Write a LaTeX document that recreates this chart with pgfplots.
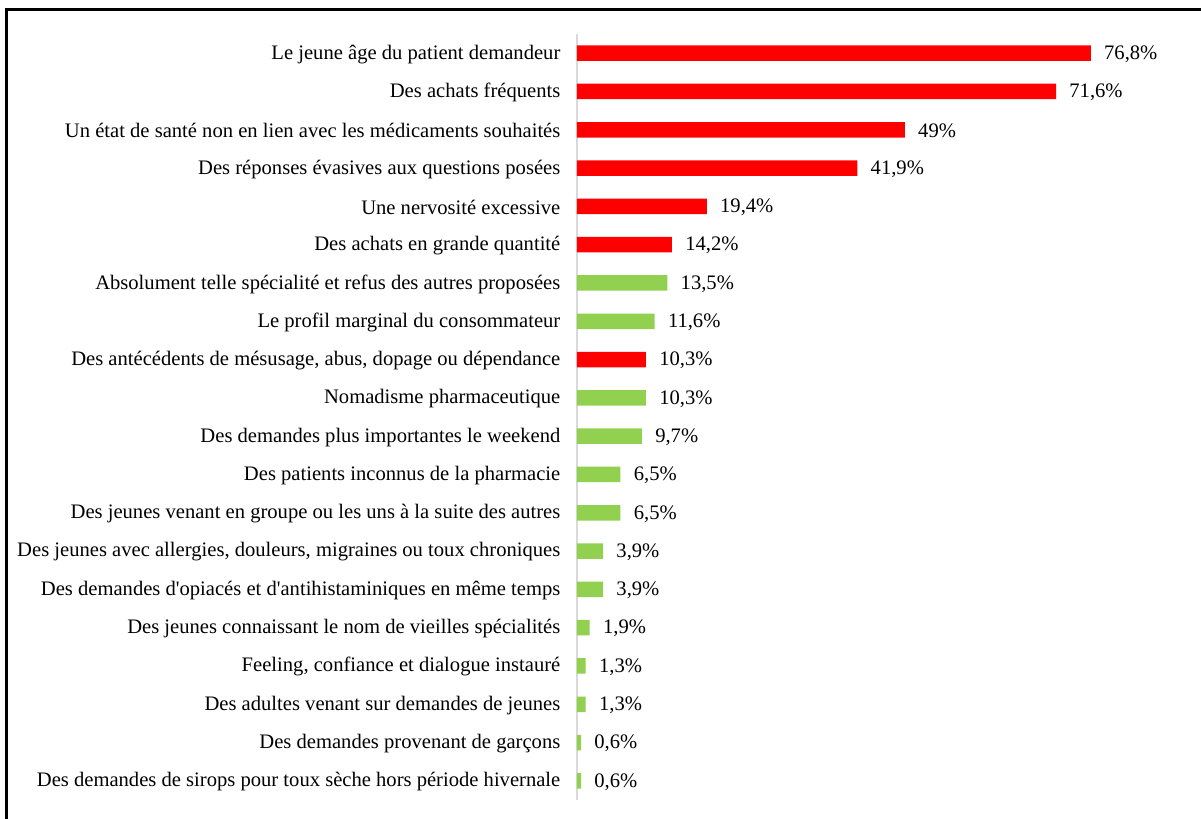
\documentclass[border=0pt]{standalone}
\usepackage{fontspec}
\setmainfont{Liberation Serif}
\usepackage{pgfplots}
\pgfplotsset{compat=1.18}
\definecolor{barred}{RGB}{255,0,0}
\definecolor{bargreen}{RGB}{146,208,80}
\definecolor{axisgray}{RGB}{217,217,217}

\begin{document}
\begin{tikzpicture}
% 1 px of the reference = 0.5pt
\fill[white] (0,0) rectangle (600.5pt,-409.5pt);
\path[use as bounding box] (0,0) rectangle (600.5pt,-409.5pt);
\draw[line width=1.5pt] (3.25pt,-409.5pt) -- (3.25pt,-4.75pt) -- (600.5pt,-4.75pt);
\begin{axis}[
  at={(288.5pt,-400pt)}, anchor=south west,
  scale only axis, width=286.5pt, height=383pt,
  xbar, bar shift=0pt, bar width=7.75pt,
  xmin=0, xmax=85.65, ymin=-0.5, ymax=19.5,
  y dir=reverse,
  axis x line=none, axis y line=left,
  y axis line style={-, draw=axisgray, line width=0.75pt},
  xtick=\empty,
  ytick={0,...,19},
  ytick style={draw=none},
  yticklabel style={font=\fontsize{10.3}{12}\selectfont, inner sep=0pt, xshift=-6pt, yshift=-0.5pt},
  yticklabels={
    {Le jeune âge du patient demandeur},
    {Des achats fréquents},
    {Un état de santé non en lien avec les médicaments souhaités},
    {Des réponses évasives aux questions posées},
    {Une nervosité excessive},
    {Des achats en grande quantité},
    {Absolument telle spécialité et refus des autres proposées},
    {Le profil marginal du consommateur},
    {Des antécédents de mésusage, abus, dopage ou dépendance},
    {Nomadisme pharmaceutique},
    {Des demandes plus importantes le weekend},
    {Des patients inconnus de la pharmacie},
    {Des jeunes venant en groupe ou les uns à la suite des autres},
    {Des jeunes avec allergies, douleurs, migraines ou toux chroniques},
    {Des demandes d\textquotesingle opiacés et d\textquotesingle antihistaminiques en même temps},
    {Des jeunes connaissant le nom de vieilles spécialités},
    {Feeling, confiance et dialogue instauré},
    {Des adultes venant sur demandes de jeunes},
    {Des demandes provenant de garçons},
    {Des demandes de sirops pour toux sèche hors période hivernale}
  },
  point meta=explicit symbolic,
  nodes near coords={\pgfplotspointmeta},
  nodes near coords style={font=\fontsize{10.3}{12}\selectfont, anchor=west, inner sep=0pt, xshift=6.5pt, yshift=-0.5pt},
]
% red series
\addplot[draw=none, fill=barred] coordinates {
  (76.8,0) [76,8\%]
  (71.6,1) [71,6\%]
  (49,2)   [49\%]
  (41.9,3) [41,9\%]
  (19.4,4) [19,4\%]
  (14.2,5) [14,2\%]
  (10.3,8) [10,3\%]
};
% green series
\addplot[draw=none, fill=bargreen] coordinates {
  (13.5,6)  [13,5\%]
  (11.6,7)  [11,6\%]
  (10.3,9)  [10,3\%]
  (9.7,10)  [9,7\%]
  (6.5,11)  [6,5\%]
  (6.5,12)  [6,5\%]
  (3.9,13)  [3,9\%]
  (3.9,14)  [3,9\%]
  (1.9,15)  [1,9\%]
  (1.3,16)  [1,3\%]
  (1.3,17)  [1,3\%]
  (0.6,18)  [0,6\%]
  (0.6,19)  [0,6\%]
};
\end{axis}
\end{tikzpicture}
\end{document}
